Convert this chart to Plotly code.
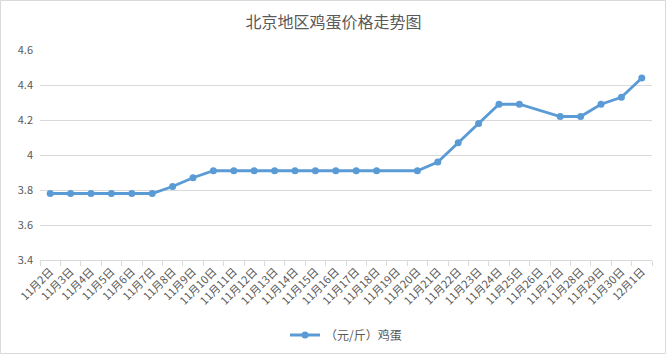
import plotly.graph_objects as go

categories = ["11月2日", "11月3日", "11月4日", "11月5日", "11月6日", "11月7日", "11月8日",
              "11月9日", "11月10日", "11月11日", "11月12日", "11月13日", "11月14日",
              "11月15日", "11月16日", "11月17日", "11月18日", "11月19日", "11月20日",
              "11月21日", "11月22日", "11月23日", "11月24日", "11月25日", "11月26日",
              "11月27日", "11月28日", "11月29日", "11月30日", "12月1日"]
egg_price = [3.78, 3.78, 3.78, 3.78, 3.78, 3.78, 3.82, 3.87, 3.91, 3.91, 3.91, 3.91,
             3.91, 3.91, 3.91, 3.91, 3.91, None, 3.91, 3.96, 4.07, 4.18, 4.29, 4.29,
             None, 4.22, 4.22, 4.29, 4.33, 4.44]
series_name = "（元/斤）鸡蛋"
title_text = "北京地区鸡蛋价格走势图"
y_ticks = [3.4, 3.6, 3.8, 4.0, 4.2, 4.4, 4.6]
y_tick_text = ["3.4", "3.6", "3.8", "4", "4.2", "4.4", "4.6"]

W, H = 667, 355
ml, mr, mt, mb = 40, 15, 50, 95
pw, ph = W - ml - mr, H - mt - mb

font_fam = "Noto Sans CJK SC, Liberation Sans, sans-serif"
grey = "#595959"
grid = "#d9d9d9"

fig = go.Figure()
fig.add_trace(go.Scatter(
    x=categories, y=egg_price, mode="lines+markers", name=series_name,
    connectgaps=True,
    line=dict(color="#5B9BD5", width=2.8),
    marker=dict(color="#5B9BD5", size=7),
))

fig.update_layout(
    width=W, height=H,
    margin=dict(l=ml, r=mr, t=mt, b=mb, autoexpand=False),
    paper_bgcolor="white", plot_bgcolor="white",
    font=dict(family=font_fam, color=grey, size=10),
    title=dict(text=title_text, x=0.5, xanchor="center", y=1 - 22 / H, yanchor="middle",
               font=dict(size=16, color=grey, family=font_fam), automargin=False),
    showlegend=True,
    legend=dict(orientation="h", x=0.5, xanchor="center", y=-(335 - mt - ph) / ph,
                yanchor="middle", font=dict(size=12, color=grey)),
    xaxis=dict(
        type="category", range=[-0.5, len(categories) - 0.5], tickangle=-45,
        showgrid=False, zeroline=False,
        showline=True, linecolor=grid, linewidth=1, automargin=False,
        ticks="outside", tickson="boundaries", ticklen=5, tickcolor=grid,
        tickfont=dict(size=11, color=grey),
    ),
    yaxis=dict(
        range=[3.4, 4.6], tickvals=y_ticks, ticktext=y_tick_text, automargin=False,
        showgrid=True, gridcolor=grid, gridwidth=1, zeroline=False, showline=False,
        ticks="", ticklabelstandoff=6, tickfont=dict(size=11, color=grey),
    ),
)

# chart outer border
fig.add_shape(type="rect", xref="paper", yref="paper",
              x0=-(ml - 0.5) / pw, x1=1 + (mr - 1.5) / pw,
              y0=-(mb - 1.5) / ph, y1=1 + (mt - 0.5) / ph,
              line=dict(color=grid, width=1), fillcolor="rgba(0,0,0,0)", layer="below")

fig.write_html("out.html")
